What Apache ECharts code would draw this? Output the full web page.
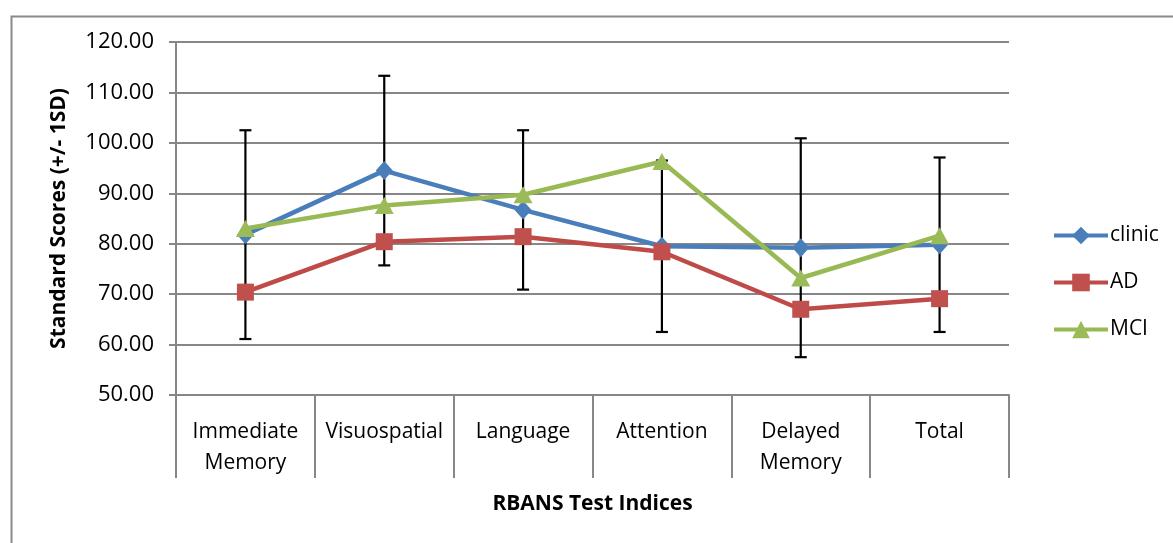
<!DOCTYPE html>
<html>
<head>
<meta charset="utf-8">
<script src="https://cdn.jsdelivr.net/npm/echarts@6/dist/echarts.min.js"></script>
<style>
html, body { margin: 0; padding: 0; background: #fff; }
#chart { width: 1173px; height: 543px; }
</style>
</head>
<body>
<div id="chart"></div>
<script>
var categories = ['Immediate\nMemory', 'Visuospatial', 'Language', 'Attention', 'Delayed\nMemory', 'Total'];
var clinic = [81.8, 94.5, 86.7, 79.5, 79.2, 79.8];
var clinicSD = [20.7, 18.8, 15.8, 17.0, 21.7, 17.3];
var ad = [70.4, 80.4, 81.4, 78.4, 67.0, 69.1];
var mci = [83.0, 87.6, 89.7, 96.3, 73.2, 81.6];

var font = '"Open Sans", Lato, sans-serif';
var gridGray = '#878787';

var errData = categories.map(function (c, i) {
    return [i, clinic[i] - clinicSD[i], clinic[i] + clinicSD[i]];
});

var chart = echarts.init(document.getElementById('chart'));

var option = {
    backgroundColor: '#fff',
    animation: false,
    graphic: [{
        type: 'rect',
        left: 9, top: 14,
        shape: { width: 1300, height: 700 },
        style: { fill: 'none', stroke: '#8a8a8a', lineWidth: 2 },
        silent: true
    }],
    grid: { left: 176, right: 164, top: 42, bottom: 148 },
    legend: {
        orient: 'vertical',
        left: 1047,
        top: 220,
        itemWidth: 54,
        itemHeight: 22,
        itemGap: 26,
        lineStyle: { width: 4 },
        textStyle: { fontFamily: font, fontSize: 21, color: '#000', padding: [0, 0, 0, -3] },
        data: ['clinic', 'AD', 'MCI']
    },
    xAxis: {
        type: 'category',
        data: categories,
        boundaryGap: true,
        name: 'RBANS Test Indices',
        nameLocation: 'middle',
        nameGap: 99,
        nameTextStyle: { fontFamily: font, fontSize: 21, fontWeight: 'bold', color: '#000', verticalAlign: 'top' },
        axisLine: { lineStyle: { color: gridGray, width: 2 } },
        axisTick: { show: true, interval: 0, length: 83, lineStyle: { color: gridGray, width: 2 } },
        axisLabel: { interval: 0, margin: 22, fontFamily: font, fontSize: 21, lineHeight: 31, color: '#000' },
        splitLine: { show: false }
    },
    yAxis: {
        type: 'value',
        min: 50, max: 120, interval: 10,
        name: 'Standard Scores (+/- 1SD)',
        nameLocation: 'middle',
        nameGap: 106,
        nameRotate: 90,
        nameTextStyle: { fontFamily: font, fontSize: 21, fontWeight: 'bold', color: '#000' },
        axisLine: { show: true, lineStyle: { color: gridGray, width: 2 } },
        axisTick: { show: true, length: 7, lineStyle: { color: gridGray, width: 2 } },
        axisLabel: {
            margin: 22, fontFamily: font, fontSize: 22, color: '#000',
            formatter: function (v) { return v.toFixed(2); }
        },
        splitLine: { lineStyle: { color: gridGray, width: 2 } }
    },
    series: [
        {
            name: 'clinic', type: 'line', data: clinic, z: 3,
            symbol: 'diamond', symbolSize: [17, 19],
            lineStyle: { color: '#4A7EBB', width: 4.5 },
            itemStyle: { color: '#4A7EBB' }
        },
        {
            name: 'AD', type: 'line', data: ad, z: 4,
            symbol: 'rect', symbolSize: 17,
            lineStyle: { color: '#BE4B48', width: 4.5 },
            itemStyle: { color: '#C0504D' }
        },
        {
            name: 'MCI', type: 'line', data: mci, z: 5,
            symbol: 'triangle', symbolSize: [19, 17],
            lineStyle: { color: '#98B954', width: 4.5 },
            itemStyle: { color: '#9BBB59' }
        },
        {
            name: 'clinic SD', type: 'custom', data: errData, z: 2,
            renderItem: function (params, api) {
                var lo = api.coord([api.value(0), api.value(1)]);
                var hi = api.coord([api.value(0), api.value(2)]);
                var w = 6;
                var st = { stroke: '#000', lineWidth: 2.2 };
                return {
                    type: 'group',
                    children: [
                        { type: 'line', shape: { x1: lo[0], y1: lo[1], x2: hi[0], y2: hi[1] }, style: st },
                        { type: 'line', shape: { x1: hi[0] - w, y1: hi[1], x2: hi[0] + w, y2: hi[1] }, style: st },
                        { type: 'line', shape: { x1: lo[0] - w, y1: lo[1], x2: lo[0] + w, y2: lo[1] }, style: st }
                    ]
                };
            }
        }
    ]
};
chart.setOption(option);
</script>
</body>
</html>
